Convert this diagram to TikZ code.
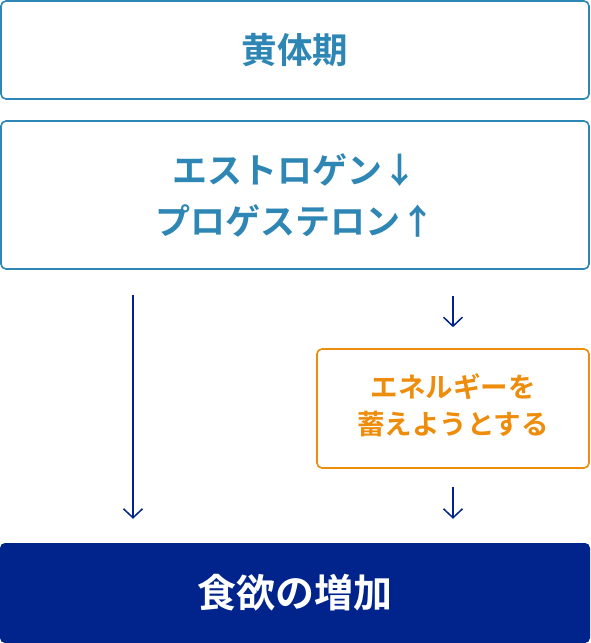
\documentclass[tikz,border=0pt]{standalone}
\usepackage{fontspec}
\setmainfont{Noto Sans CJK JP}[BoldFont=* Bold]
\usetikzlibrary{arrows.meta}
\definecolor{bluebd}{HTML}{2E86B5}
\definecolor{orangebd}{HTML}{EE8C0B}
\definecolor{navy}{HTML}{00238C}
\tikzset{
  box/.style={draw=bluebd, line width=1.6pt, rounded corners=5pt, text=bluebd,
    align=center, inner sep=0pt, font=\bfseries\fontsize{35}{51}\selectfont},
  obox/.style={draw=orangebd, line width=1.6pt, rounded corners=5pt, text=orangebd,
    align=center, inner sep=0pt, font=\bfseries\fontsize{27.5}{37}\selectfont},
  nbox/.style={fill=navy, rounded corners=5pt, text=white,
    align=center, inner sep=0pt, font=\bfseries\fontsize{39}{44}\selectfont},
  arr/.style={draw=navy, line width=1.5pt, -{Straight Barb[length=9pt,width=19pt,line width=1.5pt]}}
}
\begin{document}
\begin{tikzpicture}[x=1pt,y=-1pt]
\useasboundingbox (0,0) rectangle (590,643);
\node[box, minimum width=588pt, minimum height=98pt] (top) at (295,50) {\fontsize{35.5}{40}\selectfont 黄体期};
\node[box, minimum width=588pt, minimum height=148pt] (mid) at (295,195) {エストロゲン↓\\プロゲステロン↑};
\node[obox, minimum width=272pt, minimum height=119pt] (ene) at (453,408.5) {\raisebox{-3pt}{\begin{tabular}{@{}c@{}}エネルギーを\\蓄えようとする\end{tabular}}};
\node[nbox, minimum width=590pt, minimum height=100pt] (eat) at (295,593) {食欲の増加};
\coordinate (l) at (133,0);
\coordinate (r) at (453,0);
\draw[arr, shorten <=25pt, shorten >=24pt] (mid.south -| l) -- (eat.north -| l);
\draw[arr, shorten <=26pt, shorten >=21pt] (mid.south -| r) -- (ene.north);
\draw[arr, shorten <=18pt, shorten >=24pt] (ene.south) -- (eat.north -| r);
\end{tikzpicture}
\end{document}
